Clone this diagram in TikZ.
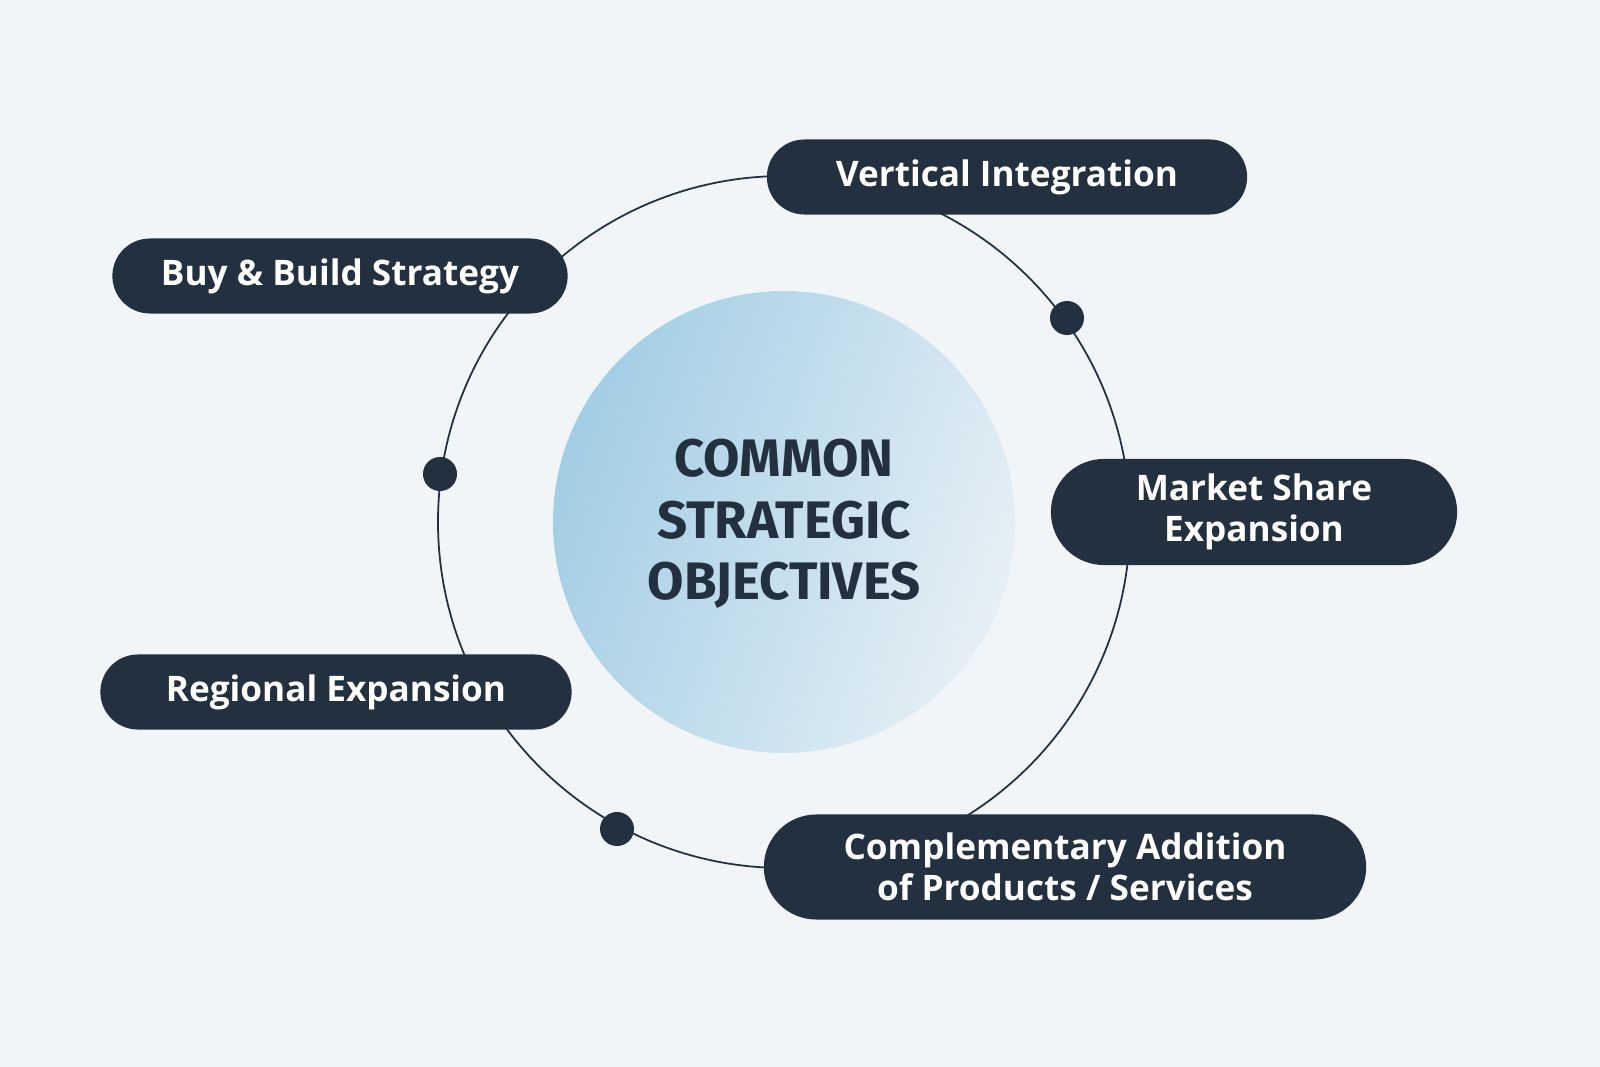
\documentclass[tikz,border=0pt]{standalone}
\usepackage{fontspec}
\setmainfont{Open Sans}
\newfontfamily\titlefont{Fira Sans}
\usetikzlibrary{positioning, shapes.misc}
\definecolor{bgcol}{HTML}{F1F5F8}
\definecolor{navy}{HTML}{22303F}
\definecolor{lightblue}{HTML}{A2CDE4}
\definecolor{paleblue}{HTML}{E6EFF5}
\begin{document}
\begin{tikzpicture}[x = 0.01cm, y = -0.01cm, % pixel grid
                pill/.style = {rounded rectangle, fill = navy, text = white,
                font = \fontsize{10}{11.5}\selectfont\bfseries, align = center,
                inner sep = 0pt, minimum height = 0.75cm},
                dot/.style = {circle, fill = navy, inner sep = 0pt, minimum size = 0.34cm}
            ]

            \fill[bgcol] (0,0) rectangle (1600,1067);
            \draw[navy, line width = 0.5pt] (784,522) circle (346);
            \shade[left color = lightblue, right color = paleblue, shading angle = 70]
            (784,522) circle (231);
            \node (centre) at (784,524) [text = navy, align = center,
            font = \titlefont\fontsize{15}{17.5}\selectfont\bfseries] {COMMON\\STRATEGIC\\OBJECTIVES};

            \node (vert) at (1007,177) [pill, minimum width = 4.8cm] {Vertical Integration};
            \node (buy) at (340,276) [pill, minimum width = 4.55cm] {Buy \& Build Strategy};
            \node (market) at (1254,512) [pill, minimum width = 4.06cm,
            minimum height = 1.06cm] {Market Share\\Expansion};
            \node (region) at (336,692) [pill, minimum width = 4.71cm] {Regional Expansion};
            \node (compl) at (1065,867) [pill, minimum width = 6.02cm,
            minimum height = 1.05cm] {Complementary Addition\\of Products / Services};

            \node (d1) at (1067,318) [dot] {}; \node (d2) at (440,474) [dot] {};
            \node (d3) at (617,829) [dot] {};
\end{tikzpicture}
\end{document}
